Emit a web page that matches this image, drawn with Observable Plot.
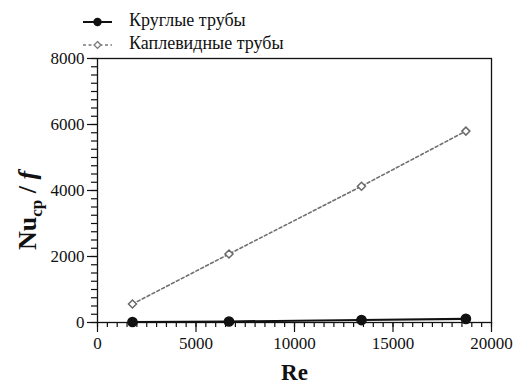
<!DOCTYPE html>
<html><head><meta charset="utf-8">
<script src="https://cdn.jsdelivr.net/npm/d3@7"></script>
<script src="https://cdn.jsdelivr.net/npm/@observablehq/plot@0.6"></script>
<style>
body{margin:0;background:#fff;}
#wrap{position:relative;width:516px;height:386px;font-family:"Liberation Serif",serif;}
#legend{position:absolute;left:83px;top:9px;font-size:18px;color:#111;font-family:"Liberation Serif",serif;}
.row{height:23px;line-height:23px;white-space:nowrap;}
.row svg{vertical-align:middle;margin-right:16px;}
#warm{position:absolute;left:-9999px;top:0;font-family:"Liberation Serif",serif;font-size:17px;white-space:nowrap;}
</style></head><body>
<div id="warm"><span>Каплевидные трубы 0123456789 Re Nu</span><b>Re Nu cp 0123456789</b><i>f</i><b><i>f</i></b></div>
<div id="wrap"><div id="legend"></div></div>
<script>
const FONT = "'Liberation Serif', serif";
// make the serif faces load before the chart is laid out
const warm = document.getElementById("warm");
void warm.offsetWidth;
void getComputedStyle(warm).fontFamily;
if (document.fonts) {
  ["17px", "bold 17px", "italic 17px", "italic bold 17px"].forEach(f => document.fonts.load(f + " 'Liberation Serif'", "Каплевидные 0123 Re"));
}

const series = ["Круглые трубы", "Каплевидные трубы"];
const re = [1775, 6675, 13400, 18700];
const roundNu = [15, 30, 75, 110];
const dropNu = [560, 2075, 4130, 5800];
const xTicks = [0, 5000, 10000, 15000, 20000];
const yTicks = [0, 2000, 4000, 6000, 8000];
const xMinor = d3.range(0, 20001, 500);
const yMinor = d3.range(0, 8001, 250);

const roundData = re.map((r, i) => ({re: r, v: roundNu[i]}));
const dropData = re.map((r, i) => ({re: r, v: dropNu[i]}));

const chart = Plot.plot({
  width: 516, height: 386,
  marginLeft: 97, marginRight: 25, marginTop: 58, marginBottom: 64,
  style: {fontFamily: FONT, fontSize: "17px", color: "#111", background: "white"},
  x: {domain: [0, 20000]},
  y: {domain: [0, 8000]},
  marks: [
    Plot.axisX({ticks: xMinor, tickSize: 5, text: null, label: null, strokeWidth: 1.2}),
    Plot.axisX({ticks: xTicks, tickSize: 10, tickPadding: 4, tickFormat: d => String(d), label: null, strokeWidth: 1.2}),
    Plot.axisY({ticks: yMinor, tickSize: 6, text: null, label: null, strokeWidth: 1.2}),
    Plot.axisY({ticks: yTicks, tickSize: 10, tickPadding: 3, tickFormat: d => String(d), label: null, strokeWidth: 1.2}),
    Plot.frame({stroke: "#111", strokeWidth: 1.3}),
    Plot.line(dropData, {x: "re", y: "v", stroke: "#707070", strokeWidth: 1.6, strokeDasharray: "3,2.5"}),
    Plot.line(roundData, {x: "re", y: "v", stroke: "#111", strokeWidth: 2.2}),
    Plot.dot(dropData, {x: "re", y: "v", symbol: "diamond2", r: 3.6, stroke: "#6a6a6a", strokeWidth: 1.5, fill: "white"}),
    Plot.dot(roundData, {x: "re", y: "v", r: 4.6, fill: "#111", stroke: "#111"}),
    Plot.text(["Re"], {text: d => d, frameAnchor: "bottom", dy: 50, lineAnchor: "middle", fontSize: 23, fontWeight: "bold"}),
    Plot.text(["Nu"], {text: d => d, frameAnchor: "left", dx: -70, dy: 20, rotate: -90, textAnchor: "middle", lineAnchor: "middle", fontSize: 26, fontWeight: "bold"})
  ]
});

// rich y label: Nu_cp / f
const yl = d3.select(chart).selectAll("text").filter(function() { return this.textContent === "Nu"; });
yl.text("");
yl.append("tspan").text("Nu");
yl.append("tspan").text("cp").attr("font-size", 17).attr("dy", 6);
yl.append("tspan").text(" / ").attr("dy", -6);
yl.append("tspan").text("f").attr("font-style", "italic");

document.getElementById("wrap").prepend(chart);

// legend
const legend = d3.select("#legend");
const r1 = legend.append("div").attr("class", "row");
const s1 = r1.append("svg").attr("width", 30).attr("height", 12);
s1.append("line").attr("x1", 0).attr("x2", 29).attr("y1", 6).attr("y2", 6).attr("stroke", "#111").attr("stroke-width", 2);
s1.append("circle").attr("cx", 14.5).attr("cy", 6).attr("r", 4.2).attr("fill", "#111");
r1.append("span").text(series[0]);
const r2 = legend.append("div").attr("class", "row");
const s2 = r2.append("svg").attr("width", 30).attr("height", 12);
s2.append("line").attr("x1", 0).attr("x2", 29).attr("y1", 6).attr("y2", 6).attr("stroke", "#7a7a7a").attr("stroke-width", 1.5).attr("stroke-dasharray", "3,2.5");
s2.append("path").attr("d", d3.symbol(d3.symbolDiamond2, 30)()).attr("transform", "translate(14.5,6)").attr("fill", "white").attr("stroke", "#777").attr("stroke-width", 1.3);
r2.append("span").text(series[1]);

// force style and layout now, as in the run that drew serif text
void getComputedStyle(document.querySelector("#legend span")).fontFamily;
void chart.getBoundingClientRect();
</script>
</body></html>
